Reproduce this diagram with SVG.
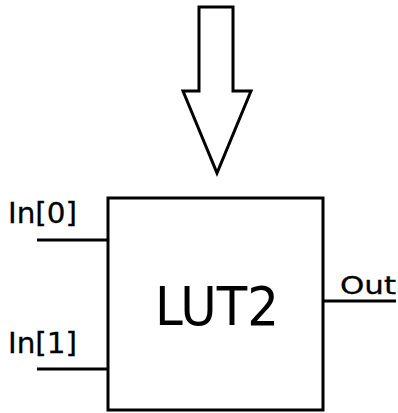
<svg xmlns="http://www.w3.org/2000/svg" width="398" height="413" viewBox="0 0 398 413">
<style>
.ln{stroke:#000;stroke-width:3;fill:none}
.t{font-family:"DejaVu Sans",sans-serif;fill:#000}
.s{stroke:#000;stroke-width:0.3}
</style>
<rect width="398" height="413" fill="#fff"/>
<g id="arrow">
<polygon points="199,7 233,7 233,91 251,91 217,173 183,91 199,91" fill="#fff" stroke="#000" stroke-width="3" stroke-linejoin="miter"/>
</g>
<g id="lut2">
<rect x="108" y="198" width="215" height="212" fill="#fff" stroke="#000" stroke-width="3"/>
<text class="t" x="217" y="325" font-size="54" text-anchor="middle" textLength="124" lengthAdjust="spacingAndGlyphs">LUT2</text>
</g>
<g id="connectors">
<line class="ln" x1="37" y1="240" x2="108" y2="240"/>
<line class="ln" x1="37" y1="369" x2="108" y2="369"/>
<line class="ln" x1="323" y1="301" x2="396" y2="301"/>
</g>
<g id="labels">
<text class="t s" x="8" y="223" font-size="28" textLength="69" lengthAdjust="spacingAndGlyphs">In[0]</text>
<text class="t s" x="8" y="353" font-size="28" textLength="69" lengthAdjust="spacingAndGlyphs">In[1]</text>
<text class="t s" x="340" y="294" font-size="25" textLength="56" lengthAdjust="spacingAndGlyphs">Out</text>
</g>
</svg>
